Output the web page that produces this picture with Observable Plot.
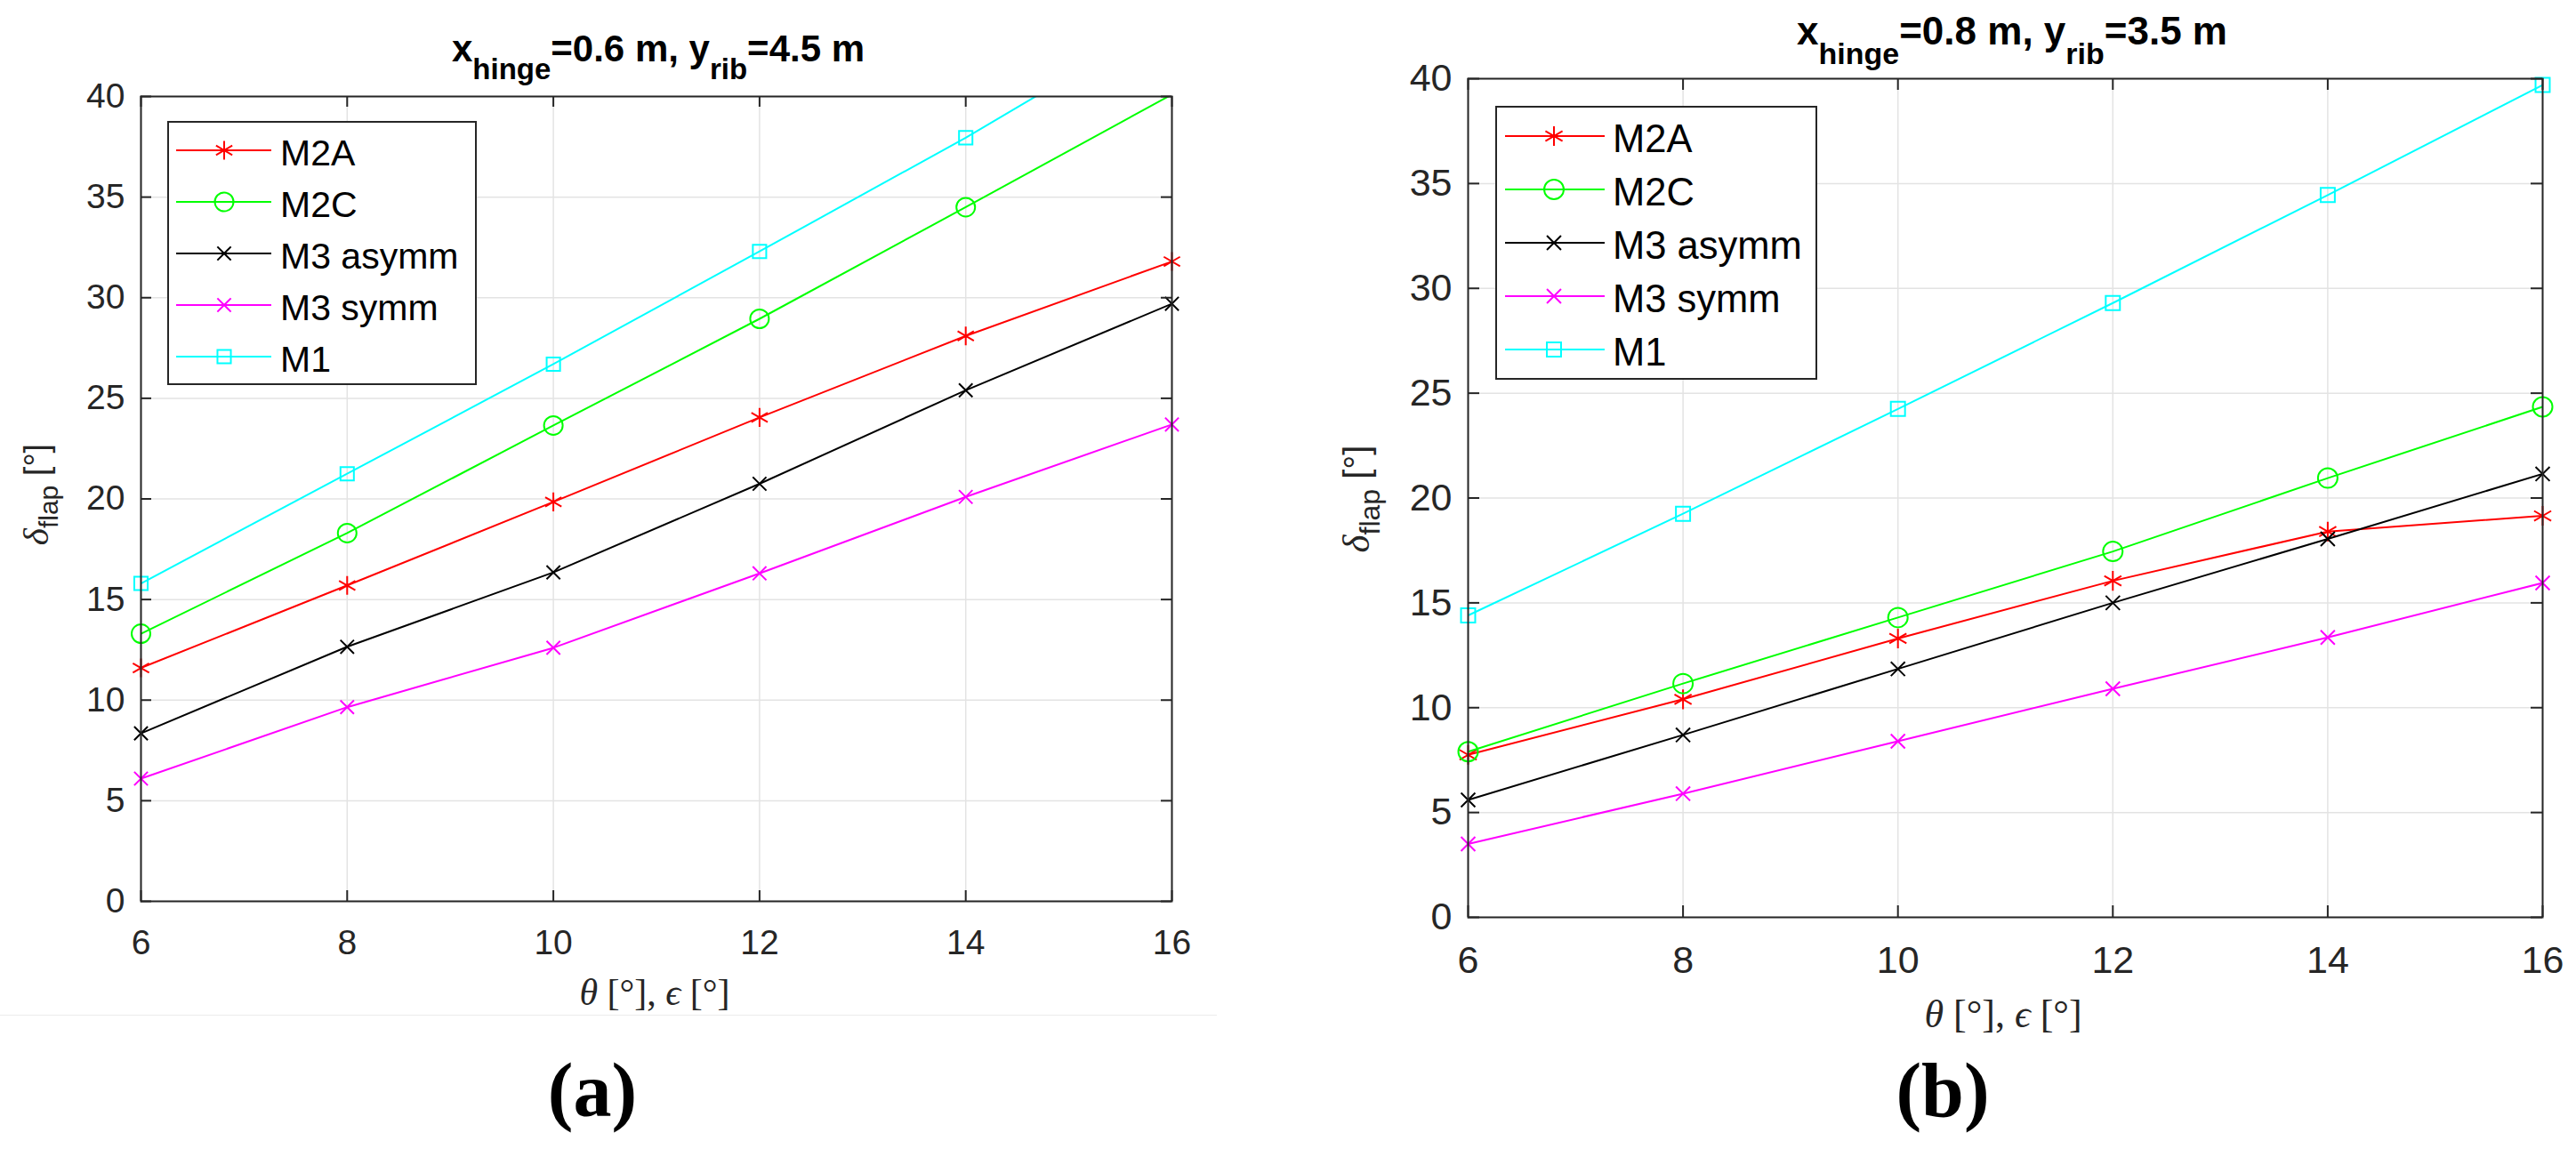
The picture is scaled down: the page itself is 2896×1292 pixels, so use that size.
<!DOCTYPE html>
<html>
<head>
<meta charset="utf-8">
<script src="https://cdn.jsdelivr.net/npm/d3@7"></script>
<script src="https://cdn.jsdelivr.net/npm/@observablehq/plot@0.6"></script>
<style>
  body { margin: 0; background: #fff; }
  #page { position: relative; width: 2896px; height: 1292px; overflow: hidden; background: #fff; }
  .abs { position: absolute; white-space: nowrap; line-height: 1; }
  .title { font-family: "Liberation Sans", Arial, sans-serif; font-weight: bold; color: #000; transform: translateX(-50%); }
  .title .sub { position: relative; }
  .xlabel { font-family: "Liberation Serif", "DejaVu Serif", serif; color: #262626; transform: translateX(-50%); }
  .caption { font-family: "Liberation Serif", "DejaVu Serif", serif; font-weight: bold; color: #000; transform: translateX(-50%); }
  .legend { position: absolute; box-sizing: border-box; border: 2px solid #262626; background: #fff; }
  .legtext { font-family: "Liberation Sans", Arial, sans-serif; color: #000; }
</style>
</head>
<body>
<div id="page"></div>
<script>
// valores
const thetaDeg = [6, 8, 10, 12, 14, 16]
const seriesNames = ['M2A', 'M2C', 'M3 asymm', 'M3 symm', 'M1']
const xTicks = [6, 8, 10, 12, 14, 16]
const yTicks = [0, 5, 10, 15, 20, 25, 30, 35, 40]

// (a) x_hinge = 0.6 m, y_rib = 4.5 m
const a_M2A = [11.6, 15.7, 19.85, 24.05, 28.1, 31.8]
const a_M2C = [13.3, 18.3, 23.65, 28.95, 34.5, 40.1]
const a_M3asymm = [8.35, 12.65, 16.35, 20.75, 25.4, 29.7]
const a_M3symm = [6.1, 9.65, 12.6, 16.3, 20.1, 23.7]
const a_M1 = [15.8, 21.25, 26.7, 32.3, 37.95, 44.0]

// (b) x_hinge = 0.8 m, y_rib = 3.5 m
const b_M2A = [7.75, 10.4, 13.3, 16.05, 18.4, 19.15]
const b_M2C = [7.9, 11.15, 14.3, 17.45, 20.95, 24.35]
const b_M3asymm = [5.6, 8.7, 11.85, 15.0, 18.05, 21.15]
const b_M3symm = [3.5, 5.9, 8.4, 10.9, 13.35, 15.95]
const b_M1 = [14.4, 19.25, 24.25, 29.3, 34.45, 39.7]

// estilo de cada serie (colores y marcadores de MATLAB)
const seriesColors = ['#ff0000', '#00ff00', '#000000', '#ff00ff', '#00ffff']
const seriesSymbols = ['asterisk', 'circle', 'times', 'times', 'square']
const d3Symbols = {asterisk: d3.symbolAsterisk, circle: d3.symbolCircle, times: d3.symbolTimes, square: d3.symbolSquare}

const ink = '#262626'
const page = d3.select('#page')

const panels = [
  {
    values: [a_M2A, a_M2C, a_M3asymm, a_M3symm, a_M1],
    left: 0, width: 1450, height: 1150,
    frame: {l: 158, r: 1317, t: 108, b: 1013},
    tickFont: 39, tick: 12,
    markR: [10, 10.5, 7, 7, 8.5],
    title: {x: 740, top: 34, size: 42, sub: 33, shift: 20, text: ['0.6', '4.5']},
    xlab: {x: 736, top: 1095, size: 42},
    ylab: {x: 54, y: 556, size: 38},
    legend: {l: 188, t: 136, w: 348, h: 297, row0: 169, step: 58, x0: 198, x1: 305, mx: 252, tx: 315, size: 41},
    caption: {x: 666, text: '(a)'}
  },
  {
    values: [b_M2A, b_M2C, b_M3asymm, b_M3symm, b_M1],
    left: 1450, width: 1446, height: 1150,
    frame: {l: 200, r: 1408, t: 88, b: 1031},
    tickFont: 43, tick: 13,
    markR: [10.5, 11, 7.3, 7.3, 9],
    title: {x: 2262, top: 13, size: 44, sub: 34, shift: 22, text: ['0.8', '3.5']},
    xlab: {x: 2252, top: 1119, size: 44},
    ylab: {x: 1539 - 1450, y: 561, size: 40},
    legend: {l: 1681, t: 119, w: 362, h: 308, row0: 153, step: 60, x0: 1692, x1: 1804, mx: 1747, tx: 1813, size: 43.5},
    caption: {x: 2184, text: '(b)'}
  }
]

function drawPanel(p) {
  const rows = seriesNames.flatMap((name, i) =>
    thetaDeg.map((t, j) => ({series: name, theta: t, delta: p.values[i][j]})))
  const fw = p.frame.r - p.frame.l
  const fh = p.frame.b - p.frame.t

  const marks = [
    Plot.gridX(xTicks, {stroke: '#e3e3e3', strokeOpacity: 1, strokeWidth: 1.5}),
    Plot.gridY(yTicks, {stroke: '#e3e3e3', strokeOpacity: 1, strokeWidth: 1.5}),
  ]

  seriesNames.forEach((name, i) => {
    const data = rows.filter(d => d.series === name)
    marks.push(Plot.line(data, {x: 'theta', y: 'delta', stroke: seriesColors[i], strokeWidth: 2, clip: true}))
    marks.push(Plot.dot(data, {
      x: 'theta', y: 'delta',
      filter: d => d.delta <= 40, // MATLAB oculta marcadores fuera del eje
      symbol: seriesSymbols[i], r: p.markR[i],
      stroke: seriesColors[i], strokeWidth: 2, fill: 'none'
    }))
  })

  // ticks hacia adentro en los cuatro lados
  marks.push(
    Plot.tickX(xTicks, {x: d => d, insetTop: fh - p.tick, stroke: ink, strokeWidth: 2}),
    Plot.tickX(xTicks, {x: d => d, insetBottom: fh - p.tick, stroke: ink, strokeWidth: 2}),
    Plot.tickY(yTicks, {y: d => d, insetRight: fw - p.tick, stroke: ink, strokeWidth: 2}),
    Plot.tickY(yTicks, {y: d => d, insetLeft: fw - p.tick, stroke: ink, strokeWidth: 2}),
    Plot.axisX(xTicks, {tickSize: 0, tickPadding: 32, label: null, fontSize: p.tickFont, tickFormat: d => String(d)}),
    Plot.axisY(yTicks, {tickSize: 0, tickPadding: 18, label: null, fontSize: p.tickFont, tickFormat: d => String(d)}),
    Plot.frame({stroke: ink, strokeWidth: 2})
  )

  const chart = Plot.plot({
    width: p.width,
    height: p.height,
    marginLeft: p.frame.l,
    marginRight: p.width - p.frame.r,
    marginTop: p.frame.t,
    marginBottom: p.height - p.frame.b,
    x: {domain: [6, 16]},
    y: {domain: [0, 40]},
    style: {fontFamily: '"Liberation Sans", Arial, sans-serif', fontSize: p.tickFont + 'px', color: ink, background: 'transparent', overflow: 'visible'},
    marks
  })

  // etiqueta eje y: δ_flap [°] (rotada, con subíndice)
  const yl = p.ylab
  const ylab = d3.select(chart).append('text')
    .attr('transform', `translate(${yl.x},${yl.y}) rotate(-90)`)
    .attr('text-anchor', 'middle')
    .attr('fill', ink)
    .attr('font-family', '"Liberation Sans", Arial, sans-serif')
    .attr('font-size', yl.size)
  ylab.append('tspan')
    .attr('font-family', '"Liberation Serif", serif').attr('font-style', 'italic')
    .attr('font-size', yl.size + 3)
    .text('δ')
  ylab.append('tspan')
    .attr('dy', Math.round(yl.size * 0.3)).attr('font-size', Math.round(yl.size * 0.8))
    .text('flap')
  ylab.append('tspan')
    .attr('dy', -Math.round(yl.size * 0.3))
    .text(' [°]')

  page.append('div')
    .attr('class', 'abs')
    .style('left', p.left + 'px').style('top', '0px')
    .append(() => chart)

  // título con subíndices
  const t = p.title
  page.append('div')
    .attr('class', 'abs title')
    .style('left', t.x + 'px').style('top', t.top + 'px').style('font-size', t.size + 'px')
    .html(`x<span class="sub" style="font-size:${t.sub}px;top:${t.shift}px">hinge</span>=${t.text[0]} m, y<span class="sub" style="font-size:${t.sub}px;top:${t.shift}px">rib</span>=${t.text[1]} m`)

  // etiqueta eje x
  page.append('div')
    .attr('class', 'abs xlabel')
    .style('left', p.xlab.x + 'px').style('top', p.xlab.top + 'px').style('font-size', p.xlab.size + 'px')
    .html('<i>θ</i> [°], <i>ϵ</i> [°]')

  // leyenda
  const lg = p.legend
  page.append('div')
    .attr('class', 'legend')
    .style('left', lg.l + 'px').style('top', lg.t + 'px')
    .style('width', lg.w + 'px').style('height', lg.h + 'px')

  seriesNames.forEach((name, i) => {
    const cy = lg.row0 + i * lg.step
    const sw = page.append('svg')
      .style('position', 'absolute')
      .style('left', lg.x0 + 'px').style('top', (cy - 20) + 'px')
      .attr('width', lg.x1 - lg.x0).attr('height', 40)
      .style('overflow', 'visible')
    sw.append('line')
      .attr('x1', 0).attr('x2', lg.x1 - lg.x0).attr('y1', 20).attr('y2', 20)
      .attr('stroke', seriesColors[i]).attr('stroke-width', 2)
    sw.append('path')
      .attr('d', d3.symbol(d3Symbols[seriesSymbols[i]], Math.PI * p.markR[i] ** 2)())
      .attr('transform', `translate(${lg.mx - lg.x0},20)`)
      .attr('fill', 'none').attr('stroke', seriesColors[i]).attr('stroke-width', 2)
    page.append('div')
      .attr('class', 'abs legtext')
      .style('left', lg.tx + 'px')
      .style('top', (cy + lg.size * 0.44 - lg.size * 0.85) + 'px')
      .style('font-size', lg.size + 'px')
      .text(name)
  })

  // (a) / (b)
  page.append('div')
    .attr('class', 'abs caption')
    .style('left', p.caption.x + 'px').style('top', '1183px').style('font-size', '86px')
    .text(p.caption.text)
}

panels.forEach(drawPanel)

// borde tenue de la imagen (a)
page.append('div')
  .style('position', 'absolute')
  .style('left', '0px').style('top', '1141px')
  .style('width', '1368px').style('height', '1px')
  .style('background', '#ececec')
</script>
</body>
</html>
